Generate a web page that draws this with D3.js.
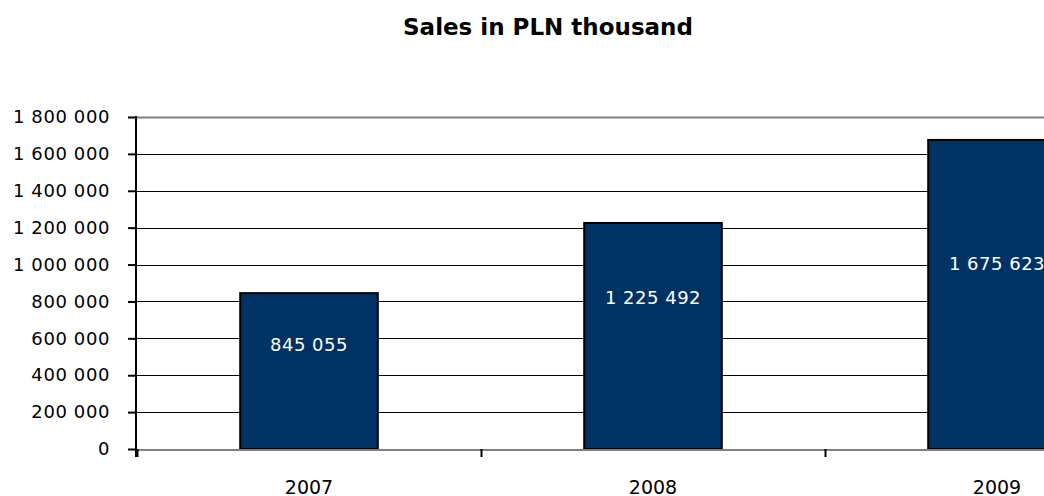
<!DOCTYPE html>
<html>
<head>
<meta charset="utf-8">
<script src="https://cdn.jsdelivr.net/npm/d3@7"></script>
<style>
  body { margin: 0; background: #fff; }
  svg { display: block; }
</style>
</head>
<body>
<div class="chart"></div>
<script>
// chart data
var years = ["2007", "2008", "2009"];
var sales = [845055, 1225492, 1675623];
var yTicks = [0, 200000, 400000, 600000, 800000, 1000000, 1200000, 1400000, 1600000, 1800000];
// where the value label sits inside each bar (share of bar height from top)
var labelAt = [0.33, 0.33, 0.40];

var w = 1044;
var h = 496;
var plotLeft = 136, plotTop = 117, plotBottom = 449;

var fmt = function(v) {
  return d3.format(",")(v).replace(/,/g, " ");
};

var svg = d3.select(".chart")
            .append("svg")
            .attr("width", w)
            .attr("height", h);

var x = d3.scaleBand()
          .domain(years)
          .range([137, 137 + 344 * 3])
          .paddingInner(0.6)
          .paddingOuter(0.3);

var y = d3.scaleLinear()
          .domain([0, 1800000])
          .range([plotBottom, plotTop]);

// title
svg.append("text")
   .attr("x", 548)
   .attr("y", 35)
   .attr("text-anchor", "middle")
   .attr("font-family", "DejaVu Sans, Verdana, sans-serif")
   .attr("font-size", "23px")
   .attr("font-weight", "bold")
   .text("Sales in PLN thousand");

// gridlines
svg.append("g")
   .selectAll("line")
   .data(yTicks.filter(function(d) { return d > 0; }))
   .enter()
   .append("line")
   .attr("x1", plotLeft)
   .attr("x2", w)
   .attr("y1", function(d) { return Math.round(y(d)) + 0.5; })
   .attr("y2", function(d) { return Math.round(y(d)) + 0.5; })
   .attr("stroke", function(d) { return d == 1800000 ? "#808080" : "#000"; })
   .attr("stroke-width", function(d) { return d == 1800000 ? 2 : 1.2; });

// bars
svg.selectAll(".bar")
   .data(sales)
   .enter()
   .append("rect")
   .attr("class", "bar")
   .attr("x", function(d, i) { return x(years[i]); })
   .attr("y", function(d) { return y(d); })
   .attr("width", x.bandwidth())
   .attr("height", function(d) { return y(0) - y(d); })
   .attr("fill", "#003363")
   .attr("stroke", "#000")
   .attr("stroke-width", 2);

// bar labels
svg.selectAll(".val")
   .data(sales)
   .enter()
   .append("text")
   .attr("class", "val")
   .attr("x", function(d, i) { return x(years[i]) + x.bandwidth() / 2; })
   .attr("y", function(d, i) { return y(d) + (y(0) - y(d)) * labelAt[i]; })
   .attr("dy", "0.35em")
   .attr("text-anchor", "middle")
   .attr("fill", "#fff")
   .attr("font-family", "DejaVu Sans, Verdana, sans-serif")
   .attr("font-size", "18px")
   .attr("letter-spacing", "0.5px")
   .text(function(d) { return fmt(d); });

// x axis line
svg.append("line")
   .attr("x1", plotLeft)
   .attr("x2", w)
   .attr("y1", plotBottom + 1)
   .attr("y2", plotBottom + 1)
   .attr("stroke", "#808080")
   .attr("stroke-width", 2);

// x ticks between categories
svg.append("g")
   .selectAll("line")
   .data(years)
   .enter()
   .append("line")
   .attr("x1", function(d) { return x(d) - x.step() * 0.3 + 0.5; })
   .attr("x2", function(d) { return x(d) - x.step() * 0.3 + 0.5; })
   .attr("y1", plotBottom)
   .attr("y2", plotBottom + 8)
   .attr("stroke", "#000")
   .attr("stroke-width", 2);

// year labels
svg.append("g")
   .selectAll("text")
   .data(years)
   .enter()
   .append("text")
   .attr("x", function(d) { return x(d) + x.bandwidth() / 2; })
   .attr("y", 494)
   .attr("text-anchor", "middle")
   .attr("font-family", "DejaVu Sans, Verdana, sans-serif")
   .attr("font-size", "19px")
   .text(function(d) { return d; });

// y axis
var yAxis = d3.axisLeft(y)
   .tickValues(yTicks)
   .tickSize(8)
   .tickPadding(18)
   .tickFormat(fmt);

var ya = svg.append("g")
   .attr("transform", "translate(" + plotLeft + ",0)")
   .call(yAxis);

ya.select(".domain")
  .attr("d", "M0," + (plotTop - 1) + "V" + (plotBottom + 8))
  .attr("stroke", "#000")
  .attr("stroke-width", 2);
ya.selectAll(".tick line").attr("stroke", "#000").attr("stroke-width", 2);
ya.selectAll(".tick text")
  .attr("fill", "#000")
  .attr("font-family", "DejaVu Sans, Verdana, sans-serif")
  .attr("font-size", "18px")
  .attr("letter-spacing", "0.6px");
</script>
</body>
</html>
